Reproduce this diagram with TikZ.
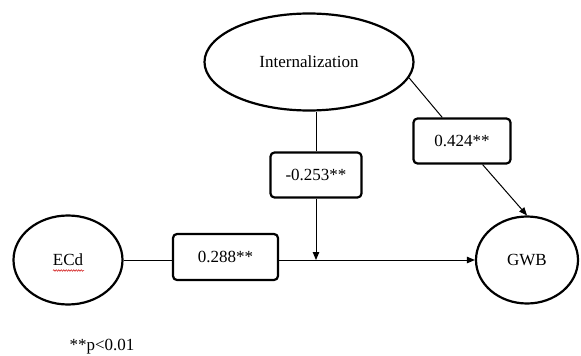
\documentclass[tikz,border=0pt]{standalone}
\usepackage{fontspec}
\setmainfont{Liberation Serif}
\usetikzlibrary{shapes.geometric,arrows.meta,decorations.pathmorphing}
\begin{document}
\begin{tikzpicture}[x=1pt,y=-1pt,
  font=\fontsize{17}{19}\selectfont,
  latent/.style={ellipse, draw, line width=2.2pt, inner sep=0pt},
  coef/.style={draw, rounded corners=4pt, line width=2.2pt, inner sep=0pt},
  conn/.style={line width=1pt},
  arr/.style={conn, -{Triangle[length=8pt,width=6.5pt]}}]
\useasboundingbox (0,0) rectangle (581,356);
\node[latent, minimum width=209pt, minimum height=97pt] (int) at (309,62) {Internalization};
\node[latent, minimum width=109pt, minimum height=89pt] (ecd) at (68,260) {ECd};
\node[latent, minimum width=102pt, minimum height=87pt] (gwb) at (527,260) {GWB};
\node[coef, minimum width=105pt, minimum height=46pt] (b288) at (225.5,257) {0.288**};
\node[coef, minimum width=91pt, minimum height=45pt] (b253) at (316,175) {-0.253**};
\node[coef, minimum width=97pt, minimum height=45pt] (b424) at (462,141) {0.424**};
\node (note) at (102,347) {**p<0.01};
\coordinate (m) at (b253 |- ecd);
\draw[conn] (ecd.east) -- (b288.west |- ecd.east);
\draw[arr] (b288.east |- ecd) -- (gwb.west);
\draw[conn] (b253.north) -- (b253.north |- int.south);
\draw[arr] (b253.south) -- (m);
\draw[conn] (int.-9) -- (b424);
\draw[arr] (b424) -- (gwb.north);
\draw[red!80!black, line width=0.5pt, decorate, decoration={snake, amplitude=0.8pt, segment length=2.5pt}] (53,270.5) -- (84,270.5);
\end{tikzpicture}
\end{document}
